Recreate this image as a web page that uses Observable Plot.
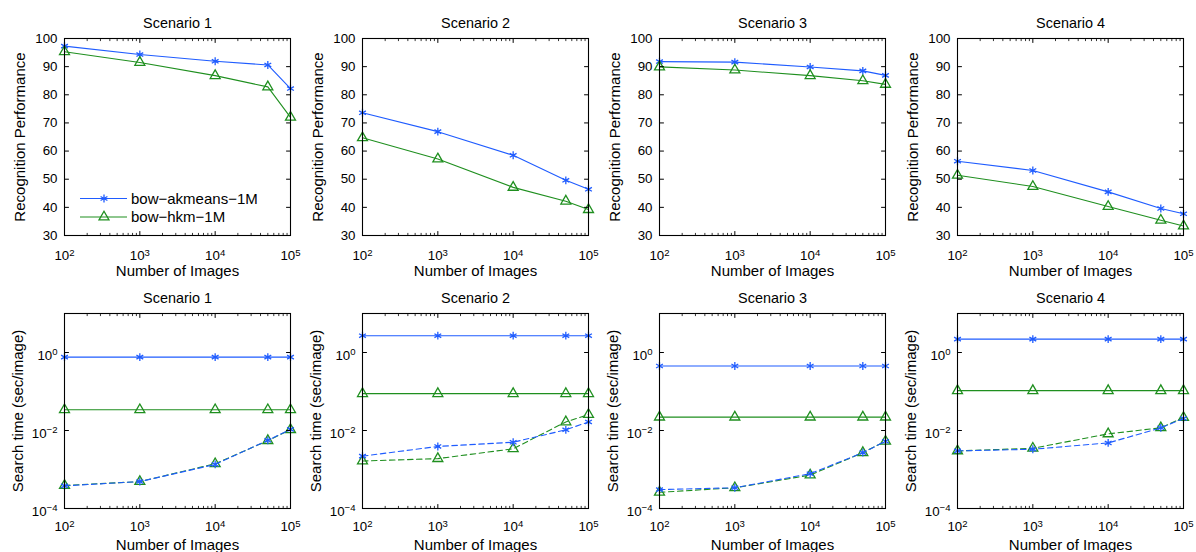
<!DOCTYPE html>
<html>
<head>
<meta charset="utf-8">
<script src="https://cdn.jsdelivr.net/npm/d3@7"></script>
<script src="https://cdn.jsdelivr.net/npm/@observablehq/plot@0.6"></script>
<style>
html, body { margin: 0; padding: 0; background: #fff; }
#chart { position: relative; width: 1196px; height: 552px; overflow: hidden; font-family: "Liberation Sans", Arial, Helvetica, sans-serif; }
#chart svg { position: absolute; }
</style>
</head>
<body>
<div id="chart"></div>
<script>
// ---------------- data ----------------
const nImages = [100, 1000, 10000, 50000, 100000];
const scenarios = ["Scenario 1", "Scenario 2", "Scenario 3", "Scenario 4"];
const seriesNames = ["bow−akmeans−1M", "bow−hkm−1M"];
const xLabel = "Number of Images";
const recLabel = "Recognition Performance";
const timeLabel = "Search time (sec/image)";

// recognition performance (top row)
const recAkmeans = [
  [97.3, 94.3, 91.9, 90.6, 82.2],
  [73.6, 66.9, 58.5, 49.6, 46.4],
  [91.8, 91.6, 89.9, 88.5, 86.9],
  [56.4, 53.1, 45.5, 39.6, 37.7]
];
const recHkm = [
  [95.3, 91.5, 86.8, 82.8, 72.0],
  [64.7, 57.2, 47.1, 42.2, 39.2],
  [89.9, 88.8, 86.8, 85.0, 83.7],
  [51.4, 47.4, 40.3, 35.4, 33.4]
];

// search time (bottom row), solid lines
const timeAkmeansSolid = [
  [0.76, 0.76, 0.76, 0.76, 0.76],
  [2.7, 2.7, 2.7, 2.7, 2.7],
  [0.45, 0.45, 0.45, 0.45, 0.45],
  [2.2, 2.2, 2.2, 2.2, 2.2]
];
const timeHkmSolid = [
  [0.034, 0.034, 0.034, 0.034, 0.034],
  [0.088, 0.088, 0.088, 0.088, 0.088],
  [0.022, 0.022, 0.022, 0.022, 0.022],
  [0.105, 0.105, 0.105, 0.105, 0.105]
];
// search time (bottom row), dashed lines
const timeAkmeansDashed = [
  [0.00038, 0.00049, 0.00135, 0.0056, 0.0107],
  [0.0022, 0.0039, 0.0050, 0.0104, 0.0166],
  [0.000305, 0.00034, 0.00078, 0.0027, 0.0053],
  [0.0030, 0.0033, 0.0048, 0.0117, 0.0203]
];
const timeHkmDashed = [
  [0.00039, 0.00049, 0.0014, 0.0055, 0.0105],
  [0.00165, 0.0019, 0.0034, 0.0166, 0.0257],
  [0.00026, 0.00034, 0.00072, 0.0027, 0.0053],
  [0.0030, 0.0035, 0.0082, 0.0117, 0.0215]
];

// axis ticks
const xMajor = [1e2, 1e3, 1e4, 1e5];
const xMinorMult = [2, 3, 4, 5, 6, 7, 8, 9];
const recTicks = [30, 40, 50, 60, 70, 80, 90, 100];
const timeTicks = [1e-4, 1e-2, 1];

// ---------------- styles / layout ----------------
const BLUE = "#1f5cff";
const GREEN = "#1f8f1f";
const FONT = '"Liberation Sans", Arial, Helvetica, sans-serif';
const frameLefts = [64, 362, 659, 957];
const FRAME_W = 226;
const ML = 64, MR = 8;

const xMinor = xMajor.slice(0, 3).flatMap(d => xMinorMult.map(k => d * k));

const tickShape = { draw(ctx, l) { ctx.moveTo(0, 0); ctx.lineTo(0, -l); } };
function ticksX(vals, anchor, rot, len, sw) {
  return Plot.vector(vals, { x: d => d, frameAnchor: anchor, rotate: rot, length: len, anchor: "start", shape: tickShape, stroke: "black", strokeWidth: sw });
}
function ticksY(vals, anchor, rot, len, sw) {
  return Plot.vector(vals, { y: d => d, frameAnchor: anchor, rotate: rot, length: len, anchor: "start", shape: tickShape, stroke: "black", strokeWidth: sw });
}
function powFmt(d) {
  const e = Math.round(Math.log10(d));
  return "10^" + (e < 0 ? "−" + (-e) : String(e));
}
function supify(svg) {
  const ns = "http://www.w3.org/2000/svg";
  svg.querySelectorAll("text").forEach(t => {
    const m = /^10\^(.+)$/.exec(t.textContent);
    if (!m) return;
    t.textContent = "";
    const a = document.createElementNS(ns, "tspan");
    a.textContent = "10";
    const b = document.createElementNS(ns, "tspan");
    b.setAttribute("dy", "-0.45em");
    b.setAttribute("font-size", "0.72em");
    b.textContent = m[1];
    t.append(a, b);
  });
}

function makePanel(i, row) {
  const top = row === 0 ? 0 : 275;
  const isRec = row === 0;
  const series = isRec
    ? [
        { vals: recAkmeans[i], color: BLUE, symbol: "asterisk", dash: null },
        { vals: recHkm[i], color: GREEN, symbol: "triangle", dash: null }
      ]
    : [
        { vals: timeAkmeansSolid[i], color: BLUE, symbol: "asterisk", dash: null },
        { vals: timeHkmSolid[i], color: GREEN, symbol: "triangle", dash: null },
        { vals: timeHkmDashed[i], color: GREEN, symbol: "triangle", dash: "5.5,3.5" },
        { vals: timeAkmeansDashed[i], color: BLUE, symbol: "asterisk", dash: "5.5,3.5" }
      ];
  const marks = [];
  for (const s of series) {
    const data = nImages.map((n, j) => ({ n, v: s.vals[j] }));
    marks.push(Plot.line(data, { x: "n", y: "v", stroke: s.color, strokeWidth: 1.1, strokeDasharray: s.dash }));
    marks.push(Plot.dot(data, { x: "n", y: "v", symbol: s.symbol, r: 3.7, stroke: s.color, strokeWidth: 1.3, fill: "none" }));
  }
  const yTicks = isRec ? recTicks : timeTicks;
  marks.push(
    Plot.frame({ stroke: "black", strokeWidth: 1.1 }),
    ticksX(xMajor, "bottom", 0, 4, 1), ticksX(xMajor, "top", 180, 4, 1),
    ticksX(xMinor, "bottom", 0, 2.2, 0.8), ticksX(xMinor, "top", 180, 2.2, 0.8),
    ticksY(yTicks, "left", 90, 4, 1), ticksY(yTicks, "right", -90, 4, 1),
    Plot.axisX({ ticks: xMajor, tickSize: 0, tickPadding: isRec ? 15 : 13, tickFormat: powFmt, label: null, fontSize: 13.3 }),
    Plot.axisY({ ticks: yTicks, tickSize: 0, tickPadding: 7, tickFormat: isRec ? (d => String(d)) : powFmt, label: null, fontSize: 13.3, dy: isRec ? 0 : 3 }),
    Plot.text([scenarios[i]], { text: d => d, frameAnchor: "top", textAnchor: "middle", lineAnchor: "middle", dy: -15, fontSize: 14.4 }),
    Plot.text([xLabel], { text: d => d, frameAnchor: "bottom", textAnchor: "middle", lineAnchor: "middle", dy: isRec ? 36 : 37, fontSize: 15 }),
    Plot.text([isRec ? recLabel : timeLabel], { text: d => d, frameAnchor: "left", textAnchor: "middle", lineAnchor: "middle", dx: isRec ? -44 : -46, rotate: -90, fontSize: 15 })
  );
  const svg = Plot.plot({
    width: ML + FRAME_W + MR,
    height: 276,
    marginLeft: ML,
    marginRight: MR,
    marginTop: 38,
    marginBottom: isRec ? 41 : 43,
    x: { type: "log", domain: [1e2, 1e5] },
    y: isRec ? { type: "linear", domain: [30, 100] } : { type: "log", domain: [1e-4, 10] },
    style: { background: "transparent", overflow: "visible", fontFamily: FONT, fontSize: "13.3px", color: "black" },
    marks
  });
  supify(svg);
  svg.style.left = (frameLefts[i] - ML) + "px";
  svg.style.top = top + "px";
  document.getElementById("chart").appendChild(svg);
}

for (let row = 0; row < 2; row++) for (let i = 0; i < 4; i++) makePanel(i, row);

// ---------------- legend (inside Scenario 1, top row) ----------------
const legend = d3.select("#chart").append("svg")
  .attr("width", 300).attr("height", 276)
  .style("left", "0px").style("top", "0px").style("pointer-events", "none");
const legItems = [
  { name: seriesNames[0], color: BLUE, sym: d3.symbolAsterisk },
  { name: seriesNames[1], color: GREEN, sym: d3.symbolTriangle }
];
legItems.forEach((it, k) => {
  const y = 198.5 + k * 18.5;
  const g = legend.append("g");
  g.append("line").attr("x1", 80).attr("x2", 127).attr("y1", y).attr("y2", y)
    .attr("stroke", it.color).attr("stroke-width", 1.1);
  g.append("path").attr("d", d3.symbol(it.sym, Math.PI * 3.7 * 3.7)())
    .attr("transform", `translate(104,${y})`)
    .attr("fill", "none").attr("stroke", it.color).attr("stroke-width", 1.3);
  g.append("text").attr("x", 131).attr("y", y).attr("dy", "0.35em")
    .attr("font-family", FONT).attr("font-size", 15).attr("fill", "black")
    .text(it.name);
});
</script>
</body>
</html>
